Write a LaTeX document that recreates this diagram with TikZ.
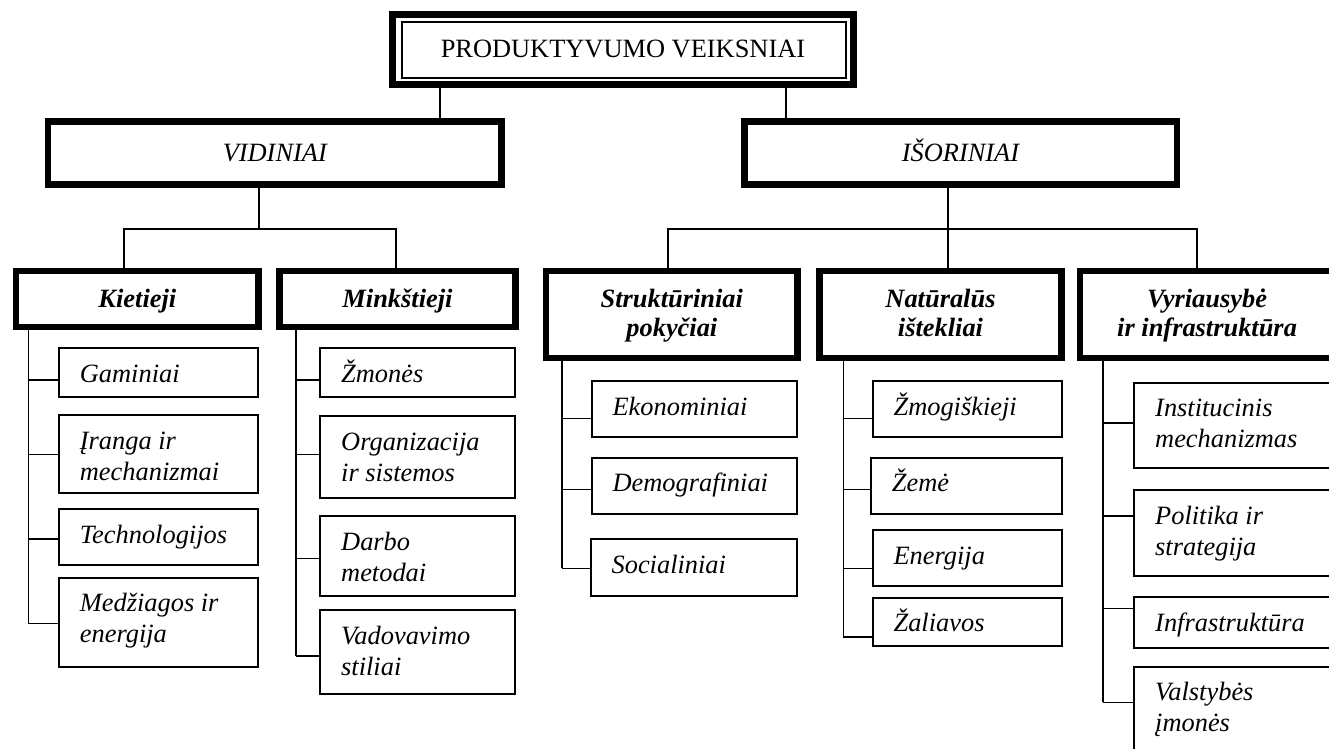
\documentclass[tikz,border=0pt]{standalone}
\usepackage{fontspec}
\setmainfont{Liberation Serif}
\usetikzlibrary{fit}
\newcommand\twol[2]{\vtop{\hbox{#1}\hbox{#2}}}
\newcommand\twoc[2]{\vtop{\halign{\hfil##\hfil\cr#1\cr#2\cr}}}
\newcommand\kidbox[8]{%
  \node[kid, fit={(#2,#3) (#4,#5)}] (#1) {};
  \node[kidtext] (#1t) at ({#2+20.5},{#3+34}) {#8};
  \coordinate (#1c) at (#6,#7);
  \draw[conn] (#1c) -- (#1c -| #1.west);
}
\tikzset{
  topbox/.style={draw, line width=3.6pt, inner sep=0pt, outer sep=0pt, fill=white},
  midbox/.style={draw, line width=3.3pt, inner sep=0pt, outer sep=0pt, fill=white},
  hdr/.style={draw, line width=3.2pt, inner sep=0pt, outer sep=0pt, fill=white},
  kid/.style={draw, line width=1pt, inner sep=0pt, outer sep=0pt, fill=white},
  toptext/.style={anchor=base, inner sep=0pt, font=\fontsize{13.2}{15.5}\selectfont},
  midtext/.style={anchor=base, inner sep=0pt, font=\fontsize{13.2}{15.5}\selectfont\itshape},
  hdrtext/.style={anchor=base, inner sep=0pt, font=\fontsize{13.2}{14.5}\selectfont\bfseries\itshape},
  kidtext/.style={anchor=base west, inner sep=0pt, font=\fontsize{13.2}{15.5}\selectfont\itshape},
  conn/.style={line width=0.8pt}
}
\begin{document}
\begin{tikzpicture}[x=0.5pt, y=-0.5pt]
\useasboundingbox (0,0) rectangle (1329,749);
\clip (0,0) rectangle (1329,749);

% level 1
\node[topbox, fit={(392.5,14.5) (853.5,84.5)}] (top) {};
\draw[line width=1pt] ([shift={(4.6pt,-4pt)}]top.north west) rectangle ([shift={(-3.75pt,3.1pt)}]top.south east);
\node[toptext] (topT) at ([yshift=-3.9pt]top.center) {PRODUKTYVUMO VEIKSNIAI};

% level 2
\node[midbox, fit={(48.1,121.5) (501.5,184.5)}] (vid) {};
\node[midtext] (vidT) at ([yshift=-4.4pt]vid.center) {VIDINIAI};
\node[midbox, fit={(744.2,121.5) (1176.8,184.5)}] (iso) {};
\node[midtext] (isoT) at ([yshift=-4.4pt]iso.center) {IŠORINIAI};

% level 3
\node[hdr, fit={(16.2,270.8) (258.5,327.2)}] (kie) {};
\node[hdrtext] (kieT) at ([yshift=-4.4pt]kie.center) {Kietieji};
\node[hdr, fit={(279.5,270.8) (515.5,327.2)}] (min) {};
\node[hdrtext] (minT) at ([yshift=-4.4pt]min.center) {Minkštieji};
\node[hdr, fit={(546.2,270.8) (797.5,358.2)}] (str) {};
\node[hdrtext] (strT) at ([yshift=3.4pt]str.center) {\twoc{Struktūriniai}{pokyčiai}};
\node[hdr, fit={(819.5,270.8) (1061.5,358.2)}] (nat) {};
\node[hdrtext] (natT) at ([yshift=3.4pt]nat.center) {\twoc{Natūralūs}{ištekliai}};
\node[hdr, fit={(1080.2,270.8) (1334,358.2)}] (vyr) {};
\node[hdrtext] (vyrT) at ([yshift=3.4pt]vyr.center) {\twoc{Vyriausybė}{ir infrastruktūra}};

% stems level 1 -> 2
\coordinate (s1) at (440,0);
\coordinate (s2) at (786,0);
\draw[conn] (top.south -| s1) -- (vid.north -| s1);
\draw[conn] (top.south -| s2) -- (iso.north -| s2);

% level 2 -> 3
\coordinate (bv1) at (124,229);
\coordinate (bvm) at (259,229);
\coordinate (bv2) at (396,229);
\draw[conn] (vid.south -| bvm) -- (bvm);
\draw[conn] (kie.north -| bv1) -- (bv1) -- (bv2) -- (min.north -| bv2);

\coordinate (bi1) at (668,229);
\coordinate (bim) at (948,229);
\coordinate (bi3) at (1197,229);
\draw[conn] (iso.south -| bim) -- (bim);
\draw[conn] (str.north -| bi1) -- (bi1) -- (bi3) -- (vyr.north -| bi3);
\draw[conn] (nat.north -| bim) -- (bim);

% Kietieji children
\kidbox{gam}{59}{348.3}{257.7}{396.7}{28.3}{380}{Gaminiai}
\kidbox{ira}{59}{415.3}{257.7}{493}{28.3}{454.3}{\twol{Įranga ir}{mechanizmai}}
\kidbox{tec}{59}{509.3}{257.7}{565}{28.3}{539}{Technologijos}
\kidbox{med}{59}{577.7}{257.7}{666.7}{28.3}{623.3}{\twol{Medžiagos ir}{energija}}
\draw[conn] (kie.south -| gamc) -- (medc);

% Minkštieji children
\kidbox{zmo}{320.3}{348.3}{515}{397}{296}{380}{Žmonės}
\kidbox{org}{320.3}{416}{515}{498.3}{296}{454.3}{\twol{Organizacija}{ir sistemos}}
\kidbox{dar}{320.3}{516.3}{515}{595.7}{296}{558.3}{\twol{Darbo}{metodai}}
\kidbox{vad}{320.3}{610}{515}{694}{296}{655.7}{\twol{Vadovavimo}{stiliai}}
\draw[conn] (min.south -| zmoc) -- (vadc);

% Strukturiniai children
\kidbox{eko}{591.7}{381}{797.3}{437.3}{562}{418.3}{Ekonominiai}
\kidbox{dem}{591.7}{457.7}{797.3}{514}{562}{489.3}{Demografiniai}
\kidbox{soc}{590.7}{539.3}{797.3}{595.7}{562}{568.3}{Socialiniai}
\draw[conn] (str.south -| ekoc) -- (socc);

% Naturalus children
\kidbox{zmg}{872.7}{381}{1062}{437.3}{843.3}{418.3}{Žmogiškieji}
\kidbox{zem}{871}{457.7}{1062}{514}{843.3}{489.3}{Žemė}
\kidbox{ene}{872.7}{530.3}{1062}{586.3}{843.3}{568.3}{Energija}
\kidbox{zal}{872.7}{597.7}{1062}{646.3}{843.3}{636.7}{Žaliavos}
\draw[conn] (nat.south -| zmgc) -- (zalc);

% Vyriausybe children
\kidbox{ins}{1134.3}{382.7}{1340}{468.3}{1102.7}{422.7}{\twol{Institucinis}{mechanizmas}}
\kidbox{pol}{1134.3}{490.3}{1340}{575.7}{1102.7}{516}{\twol{Politika ir}{strategija}}
\kidbox{inf}{1134.3}{597}{1340}{648}{1102.7}{608.3}{Infrastruktūra}
\kidbox{val}{1134.3}{666.7}{1340}{790}{1102.7}{702.3}{\twol{Valstybės}{įmonės}}
\draw[conn] (vyr.south -| insc) -- (valc);
\end{tikzpicture}
\end{document}
